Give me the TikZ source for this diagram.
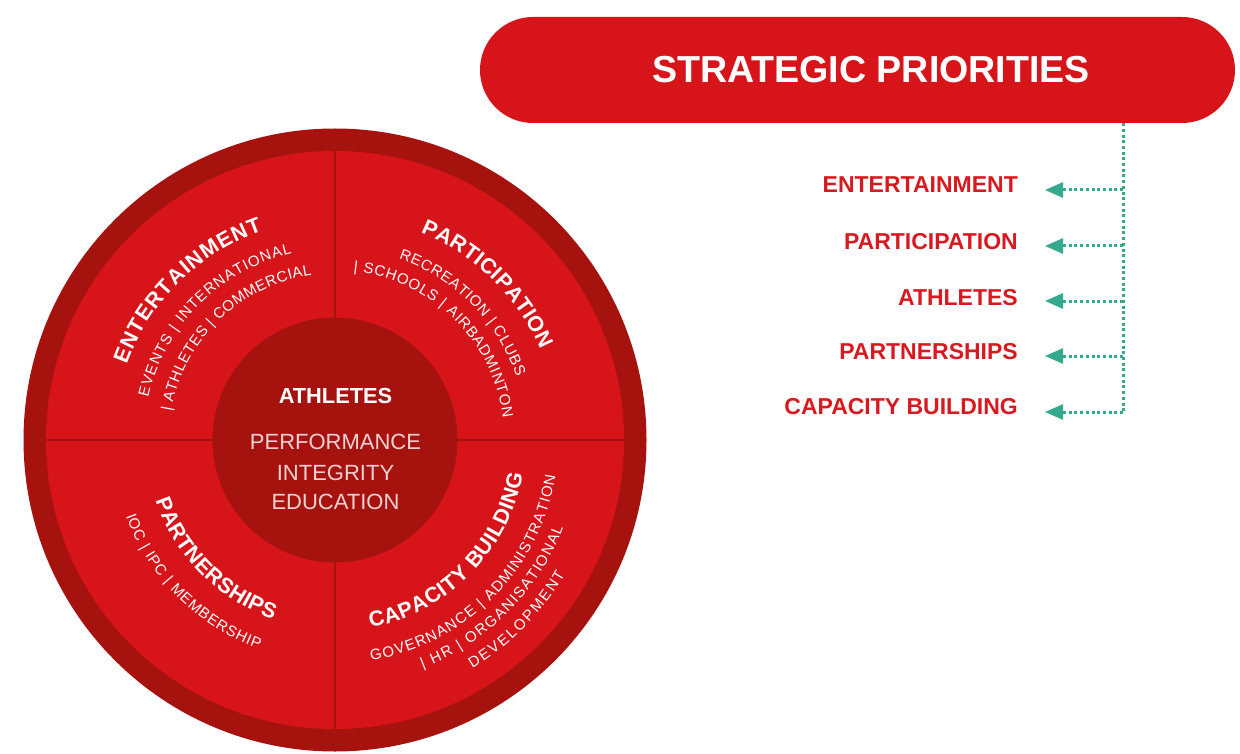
\documentclass[tikz,border=0pt]{standalone}
\usepackage{fontspec}
\setmainfont{Liberation Sans}
\usetikzlibrary{decorations.text, arrows.meta, calc}
\definecolor{brightred}{HTML}{D7141A}
\definecolor{darkred}{HTML}{A6130F}
\definecolor{labelred}{HTML}{D71920}
\definecolor{tealdot}{HTML}{34A98B}
\definecolor{hubpink}{HTML}{F2D2D2}
\newcommand\wheeltitle{\bfseries\fontsize{21.5}{24}\selectfont}
\newcommand\wheelsub{\fontsize{15}{18}\selectfont}
\newcommand\arctext[4]{%
  \path[decorate, shift={(C)}, decoration={text along path, text={#4}, text align=fit to path, text color=white}]
    (#1:#3) arc[start angle=#1, end angle=#2, radius=#3];}
\begin{document}
\begin{tikzpicture}[x=1pt, y=1pt,
  disc/.style={circle, inner sep=0pt, draw=none},
  divider/.style={draw=darkred, line width=2.5pt},
  prio/.style={font=\bfseries\fontsize{23}{26}\selectfont, text=labelred, inner sep=0pt, anchor=east},
  hubtext/.style={font=\fontsize{22}{26}\selectfont, text=hubpink, inner sep=0pt},
  dotline/.style={draw=tealdot, line width=3pt, dash pattern=on 3pt off 2.7pt},
  tealarrow/.style={dotline, -{Triangle[length=18pt, width=15pt, fill=tealdot]}}]
\useasboundingbox (0,0) rectangle (1240,-754);
% ---------- wheel ----------
\coordinate (C) at (335,-440);
\node[disc, fill=darkred, minimum size=623pt] (outer) at (C) {};
\node[disc, fill=brightred, minimum size=578pt] (inner) at (C) {};
\draw[divider] (inner.north) -- (inner.south);
\draw[divider] (inner.west) -- (inner.east);
\node[disc, fill=darkred, minimum size=245pt] (hub) at (C) {};
\node[font=\bfseries\fontsize{21.8}{24}\selectfont, text=white, inner sep=0pt] (hubtitle) at (335.5,-396) {ATHLETES};
\node[hubtext] (perf) at (335.5,-442) {PERFORMANCE};
\node[hubtext] (integ) at (335.5,-473) {INTEGRITY};
\node[hubtext] (educ) at (335.5,-502) {EDUCATION};
% Entertainment
\arctext{160.1}{109.1}{221.5}{|\wheeltitle|ENTERTAINMENT}
\arctext{167.2}{103}{191.5}{|\wheelsub|EVENTS {\textbar} INTERNATIONAL}
\arctext{170}{98}{166.5}{|\wheelsub|{\textbar} ATHLETES {\textbar} COMMERCIAL}
% Participation
\arctext{67.6}{23.7}{224.5}{|\wheeltitle|PARTICIPATION}
\arctext{70.6}{19.3}{192.3}{|\wheelsub|RECREATION {\textbar} CLUBS}
\arctext{83.8}{7.4}{169.5}{|\wheelsub|{\textbar} SCHOOLS {\textbar} AIRBADMINTON}
% Partnerships
\arctext{198.6}{251}{189.5}{|\wheeltitle|PARTNERSHIPS}
\arctext{200}{250}{222.5}{|\wheelsub|IOC {\textbar} IPC {\textbar} MEMBERSHIP}
% Capacity building
\arctext{280.7}{349.7}{191}{|\wheeltitle|CAPACITY BUILDING}
\arctext{279.3}{350.8}{223.5}{|\wheelsub|GOVERNANCE {\textbar} ADMINISTRATION}
\arctext{291}{339}{244.5}{|\wheelsub|{\textbar} HR {\textbar} ORGANISATIONAL}
\arctext{301}{329.7}{266.5}{|\wheelsub|DEVELOPMENT}
% ---------- banner ----------
\node[fill=brightred, rounded corners=53pt, minimum width=755pt, minimum height=106pt, inner sep=0pt] (banner) at (857.5,-70) {};
\node[font=\bfseries\fontsize{37.6}{40}\selectfont, text=white, inner sep=0pt] (bannertext) at (871,-70) {STRATEGIC PRIORITIES};
% ---------- priorities list ----------
\node[prio] (p1) at (1018,-185) {ENTERTAINMENT};
\node[prio] (p2) at (1018,-242) {PARTICIPATION};
\node[prio] (p3) at (1018,-297.5) {ATHLETES};
\node[prio] (p4) at (1018,-351.5) {PARTNERSHIPS};
\node[prio] (p5) at (1018,-406.5) {CAPACITY BUILDING};
% ---------- connectors ----------
\coordinate (vx) at (1123,0);
\coordinate (tipx) at (1045,0);
\coordinate (vtop) at (vx |- banner.south);
\coordinate (a1) at (1123,-190);
\coordinate (a2) at (1123,-246);
\coordinate (a3) at (1123,-301);
\coordinate (a4) at (1123,-356);
\coordinate (a5) at (1123,-412);
\draw[dotline] (vtop) -- (a5);
\foreach \i in {1,...,5}{
  \draw[tealarrow] (a\i) -- (a\i -| tipx);
}
\end{tikzpicture}
\end{document}
